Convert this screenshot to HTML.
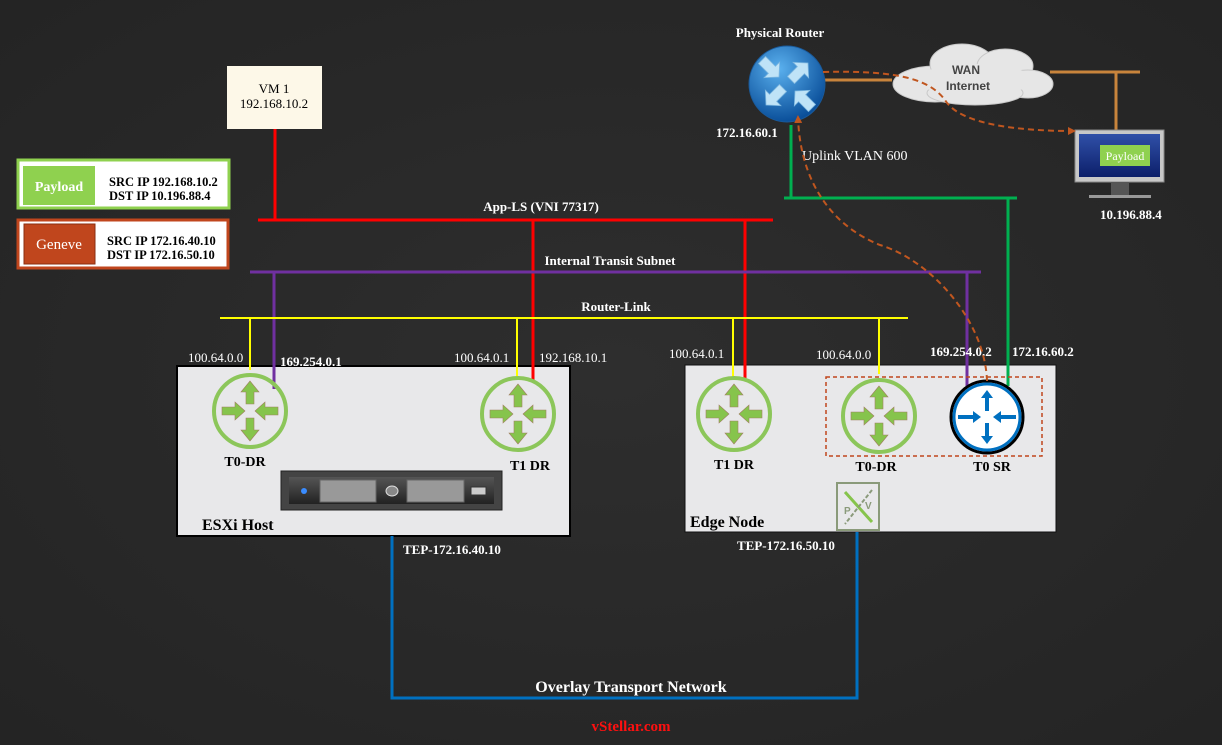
<!DOCTYPE html>
<html><head><meta charset="utf-8"><style>
html,body{margin:0;padding:0;background:#2a2a2a;}
svg{display:block}
text{font-family:"Liberation Serif",serif;}
text.sans{font-family:"Liberation Sans",sans-serif;}
</style></head><body>
<svg width="1222" height="745" viewBox="0 0 1222 745" xmlns="http://www.w3.org/2000/svg">
<defs>
<radialGradient id="bg" cx="50%" cy="50%" r="70%"><stop offset="0" stop-color="#2e2e2e"/><stop offset="1" stop-color="#242424"/></radialGradient>
<radialGradient id="pr" cx="40%" cy="30%" r="70%"><stop offset="0" stop-color="#5ab0ee"/><stop offset="1" stop-color="#0a4f9a"/></radialGradient>
<linearGradient id="srv" x1="0" y1="0" x2="0" y2="1"><stop offset="0" stop-color="#555"/><stop offset="1" stop-color="#222"/></linearGradient>
<linearGradient id="scr" x1="0" y1="0" x2="0" y2="1"><stop offset="0" stop-color="#3050a8"/><stop offset="1" stop-color="#0c1f6a"/></linearGradient>
<marker id="ah" markerWidth="8" markerHeight="8" refX="6" refY="4" orient="auto" markerUnits="userSpaceOnUse"><path d="M0,0 L8,4 L0,8 z" fill="#c0561f"/></marker>
<g id="gr">
<circle r="36" fill="none" stroke="#8cc65a" stroke-width="4"/>
<g fill="#86c44c" stroke="#a08060" stroke-width="0.6">
<path d="M0,-30 L-9,-19 L-4,-19 L-4,-7 L4,-7 L4,-19 L9,-19 z"/>
<path d="M0,30 L-9,19 L-4,19 L-4,7 L4,7 L4,19 L9,19 z"/>
<path d="M-5,0 L-15,-9 L-15,-4 L-28,-4 L-28,4 L-15,4 L-15,9 z"/>
<path d="M5,0 L15,-9 L15,-4 L28,-4 L28,4 L15,4 L15,9 z"/>
</g></g>
<path id="darr" d="M0,-5 L14,-5 L14,-11 L24,0 L14,11 L14,5 L0,5 z" fill="#bfe3f7" stroke="#7fb8e0" stroke-width="0.8"/>
</defs>
<rect width="1222" height="745" fill="url(#bg)"/>

<!-- legend -->
<rect x="18" y="160" width="211" height="48" fill="#fff" stroke="#8fd14f" stroke-width="3"/>
<rect x="23" y="166" width="72" height="39" fill="#8fd14f"/>
<text x="59" y="191" fill="#fff" font-size="14" font-weight="bold" text-anchor="middle">Payload</text>
<text x="109" y="186" font-size="12.5" font-weight="bold" fill="#000">SRC IP 192.168.10.2</text>
<text x="109" y="200" font-size="12.5" font-weight="bold" fill="#000">DST IP 10.196.88.4</text>
<rect x="18" y="220" width="210" height="48" fill="#fff" stroke="#c0461d" stroke-width="3"/>
<rect x="24" y="224" width="71" height="40" fill="#c0461d" stroke="#8a2e10"/>
<text x="59" y="249" fill="#fff" font-size="15" text-anchor="middle">Geneve</text>
<text x="107" y="245" font-size="12.5" font-weight="bold" fill="#000">SRC IP 172.16.40.10</text>
<text x="107" y="259" font-size="12.5" font-weight="bold" fill="#000">DST IP 172.16.50.10</text>

<!-- VM -->
<rect x="227" y="66" width="95" height="63" fill="#fdf8e8"/>
<text x="274" y="93" font-size="13" text-anchor="middle" fill="#000">VM 1</text>
<text x="274" y="108" font-size="13" text-anchor="middle" fill="#000">192.168.10.2</text>

<!-- boxes -->
<rect x="177" y="366" width="393" height="170" fill="#e8e8ea" stroke="#000" stroke-width="2"/>
<rect x="685" y="365" width="371" height="167" fill="#e8e8ea" stroke="#111" stroke-width="1"/>

<!-- lines -->
<g stroke-width="3" fill="none">
<path d="M275,129 V220" stroke="#ff0000"/>
<path d="M258,220 H773 M533,220 V380 M745,220 V381" stroke="#ff0000"/>
<path d="M250,272 H981 M274,272 V389 M967,272 V389" stroke="#7030a0"/>
<path d="M220,318 H908 M250,318 V370 M517,318 V380 M733,318 V380 M879,318 V374" stroke="#ffff00" stroke-width="2"/>
<path d="M791,125 V198 M784,198 H1017 M1008,198 V386" stroke="#00b050"/>
<path d="M392,536 V698 H857 V532" stroke="#0070c0"/>
<path d="M822,80 H892 M1050,72 H1140 M1116,72 V130" stroke="#c8843c"/>
</g>

<!-- line labels -->
<g font-weight="bold" font-size="13" fill="#fff" text-anchor="middle">
<text x="541" y="211">App-LS (VNI 77317)</text>
<text x="610" y="265">Internal Transit Subnet</text>
<text x="616" y="311">Router-Link</text>
</g>
<g font-size="13" fill="#fff">
<text x="188" y="362">100.64.0.0</text>
<text x="280" y="366" font-weight="bold">169.254.0.1</text>
<text x="454" y="362">100.64.0.1</text>
<text x="539" y="362">192.168.10.1</text>
<text x="669" y="358">100.64.0.1</text>
<text x="816" y="359">100.64.0.0</text>
<text x="930" y="356" font-weight="bold">169.254.0.2</text>
<text x="1012" y="356" font-weight="bold">172.16.60.2</text>
<text x="403" y="554" font-weight="bold">TEP-172.16.40.10</text>
<text x="737" y="550" font-weight="bold">TEP-172.16.50.10</text>
<text x="716" y="137" font-weight="bold">172.16.60.1</text>
<text x="802" y="160" font-size="14">Uplink VLAN 600</text>
<text x="1100" y="219" font-weight="bold">10.196.88.4</text>
</g>
<text x="780" y="37" font-size="13" font-weight="bold" fill="#fff" text-anchor="middle">Physical Router</text>
<text x="631" y="692" font-size="16" font-weight="bold" fill="#fff" text-anchor="middle">Overlay Transport Network</text>
<text x="631" y="731" font-size="15" font-weight="bold" fill="#ff1010" text-anchor="middle">vStellar.com</text>

<!-- routers -->
<use href="#gr" x="250" y="411"/>
<use href="#gr" x="518" y="414"/>
<use href="#gr" x="734" y="414"/>
<use href="#gr" x="879" y="416"/>
<rect x="826" y="377" width="216" height="79" fill="none" stroke="#c0461d" stroke-width="1.5" stroke-dasharray="4,3"/>
<g transform="translate(987,417)">
<circle r="36" fill="#fff" stroke="#000" stroke-width="3"/>
<circle r="33" fill="none" stroke="#0070c0" stroke-width="3"/>
<g fill="#0070c0">
<path d="M0,-27 L-6,-19 L-2,-19 L-2,-6 L2,-6 L2,-19 L6,-19 z"/>
<path d="M0,27 L-6,19 L-2,19 L-2,6 L2,6 L2,19 L6,19 z"/>
<path d="M-6,0 L-14,-6 L-14,-2 L-29,-2 L-29,2 L-14,2 L-14,6 z"/>
<path d="M6,0 L14,-6 L14,-2 L29,-2 L29,2 L14,2 L14,6 z"/>
</g></g>
<g font-size="14" font-weight="bold" fill="#000" text-anchor="middle">
<text x="245" y="466">T0-DR</text>
<text x="530" y="470">T1 DR</text>
<text x="734" y="469">T1 DR</text>
<text x="876" y="471">T0-DR</text>
<text x="992" y="471">T0 SR</text>
</g>
<text x="202" y="530" font-size="16" font-weight="bold" fill="#000">ESXi Host</text>
<text x="690" y="527" font-size="16" font-weight="bold" fill="#000">Edge Node</text>

<!-- server -->
<rect x="281" y="471" width="221" height="39" fill="#444" stroke="#222"/>
<rect x="289" y="477" width="205" height="27" fill="url(#srv)"/>
<circle cx="304" cy="491" r="3" fill="#3a8cff"/>
<rect x="320" y="480" width="56" height="22" fill="#999" stroke="#666"/>
<rect x="407" y="480" width="57" height="22" fill="#999" stroke="#666"/>
<ellipse cx="392" cy="491" rx="6" ry="5" fill="#888" stroke="#ddd"/>
<rect x="471" y="487" width="15" height="8" fill="#ccc" stroke="#333"/>

<!-- PV icon -->
<rect x="837" y="483" width="42" height="47" fill="#e8e8ea" stroke="#8a9a7a" stroke-width="2"/>
<path d="M845,492 L872,522" stroke="#86c44c" stroke-width="3"/>
<path d="M872,490 L845,524" stroke="#8a9a7a" stroke-width="2" stroke-dasharray="4,2"/>
<text class="sans" x="844" y="514" font-size="10" font-weight="bold" fill="#8a9a7a">P</text>
<text class="sans" x="865" y="509" font-size="10" font-weight="bold" fill="#8a9a7a">V</text>

<!-- physical router -->
<circle cx="787" cy="84" r="38" fill="url(#pr)" stroke="#1a5a9a"/>
<use href="#darr" transform="translate(762,60) rotate(45)"/>
<use href="#darr" transform="translate(791,80) rotate(-45)"/>
<use href="#darr" transform="translate(783,88) rotate(135)"/>
<use href="#darr" transform="translate(812,108) rotate(-135)"/>

<!-- cloud -->
<g fill="#e6e6e6" stroke="#c8c8c8">
<ellipse cx="935" cy="84" rx="42" ry="18"/>
<ellipse cx="962" cy="64" rx="32" ry="20"/>
<ellipse cx="1005" cy="66" rx="28" ry="17"/>
<ellipse cx="1028" cy="84" rx="25" ry="14"/>
<ellipse cx="975" cy="93" rx="48" ry="12"/>
</g>
<ellipse cx="975" cy="80" rx="58" ry="16" fill="#e6e6e6"/>
<text class="sans" x="966" y="74" font-size="12" font-weight="bold" fill="#444" text-anchor="middle">WAN</text>
<text class="sans" x="968" y="90" font-size="12" font-weight="bold" fill="#444" text-anchor="middle">Internet</text>

<!-- monitor -->
<rect x="1075" y="130" width="89" height="52" fill="#c8c8c8" stroke="#888"/>
<rect x="1079" y="134" width="81" height="43" fill="url(#scr)"/>
<rect x="1100" y="145" width="50" height="21" fill="#8fd14f"/>
<text x="1125" y="160" font-size="12" fill="#fff" text-anchor="middle">Payload</text>
<rect x="1111" y="182" width="18" height="13" fill="#555"/>
<rect x="1089" y="195" width="62" height="3" fill="#999"/>

<!-- dashed flows -->
<g fill="none" stroke="#c0561f" stroke-width="2" stroke-dasharray="6,4">
<path d="M823,72 C900,70 930,80 945,100 C960,125 1020,131 1074,131" marker-end="url(#ah)"/>
<path d="M987,381 C985,320 930,260 880,245 C830,225 800,180 798,117" marker-end="url(#ah)"/>
</g>
</svg>
</body></html>
